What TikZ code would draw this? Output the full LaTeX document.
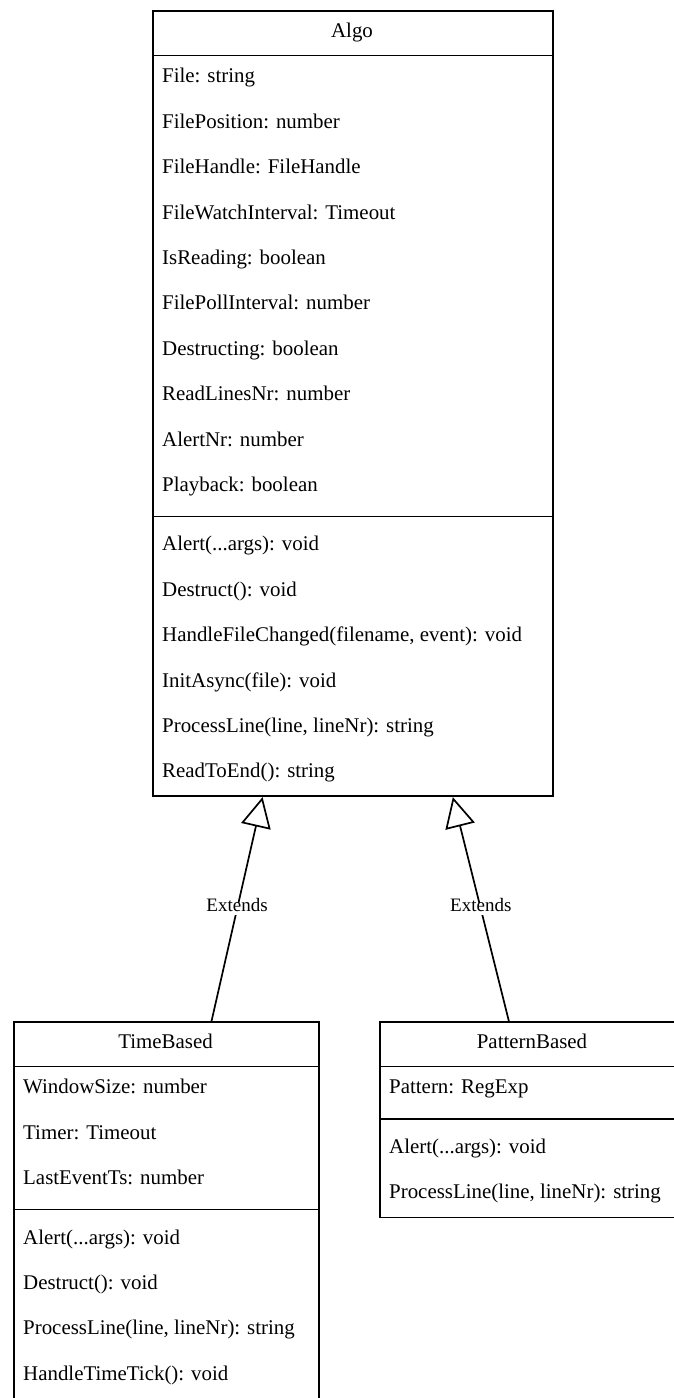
\documentclass[tikz,border=0pt]{standalone}
\usepackage{fontspec}
\setmainfont{Liberation Serif}
\usetikzlibrary{arrows.meta}
\begin{document}
\begin{tikzpicture}[x=1pt,y=-1pt,
  classbox/.style={draw=black, line width=1.7pt, fill=white, inner sep=0pt, anchor=north west},
  rowtext/.style={anchor=west, inner sep=0pt, text height=0.94em, text depth=0pt, font=\fontsize{20.9}{25}\selectfont},
  titletext/.style={anchor=center, inner sep=0pt, text height=0.94em, text depth=0pt, font=\fontsize{20.9}{25}\selectfont},
  sepline/.style={draw=black, line width=1.7pt},
  extends/.style={draw=black, line width=1.7pt, -{Triangle[open, length=30pt, width=30pt, line width=1.7pt]}},
  extlabel/.style={fill=white, inner sep=1pt, text height=0.75em, text depth=0.25em, font=\fontsize{19}{22}\selectfont}
]
\useasboundingbox (0,0) rectangle (673,1398);

% ---------- Algo ----------
\node[classbox, minimum width=400pt, minimum height=785.4pt] (algo) at (152,10) {};
\node[titletext] (algoT) at (352,32.7) {Algo};
\draw[sepline] (152,55.4) -- (552,55.4);
\node[rowtext] (a1) at (162,78.1) {File: string};
\node[rowtext] (a2) at (162,123.5) {FilePosition: number};
\node[rowtext] (a3) at (162,168.9) {FileHandle: FileHandle};
\node[rowtext] (a4) at (162,214.3) {FileWatchInterval: Timeout};
\node[rowtext] (a5) at (162,259.7) {IsReading: boolean};
\node[rowtext] (a6) at (162,305.1) {FilePollInterval: number};
\node[rowtext] (a7) at (162,350.5) {Destructing: boolean};
\node[rowtext] (a8) at (162,395.9) {ReadLinesNr: number};
\node[rowtext] (a9) at (162,441.3) {AlertNr: number};
\node[rowtext] (a10) at (162,486.7) {Playback: boolean};
\draw[sepline] (152,516.4) -- (552,516.4);
\node[rowtext] (m1) at (162,546.1) {Alert(...args): void};
\node[rowtext] (m2) at (162,591.5) {Destruct(): void};
\node[rowtext] (m3) at (162,636.9) {HandleFileChanged(filename, event): void};
\node[rowtext] (m4) at (162,682.3) {InitAsync(file): void};
\node[rowtext] (m5) at (162,727.7) {ProcessLine(line, lineNr): string};
\node[rowtext] (m6) at (162,773.1) {ReadToEnd(): string};

% ---------- TimeBased ----------
\node[classbox, minimum width=305pt, minimum height=379pt] (tb) at (13,1021) {};
\node[titletext] (tbT) at (165.5,1043.7) {TimeBased};
\draw[sepline] (13,1066.4) -- (318,1066.4);
\node[rowtext] (t1) at (23,1089.1) {WindowSize: number};
\node[rowtext] (t2) at (23,1134.5) {Timer: Timeout};
\node[rowtext] (t3) at (23,1179.9) {LastEventTs: number};
\draw[sepline] (13,1209.6) -- (318,1209.6);
\node[rowtext] (t4) at (23,1239.3) {Alert(...args): void};
\node[rowtext] (t5) at (23,1284.7) {Destruct(): void};
\node[rowtext] (t6) at (23,1330.1) {ProcessLine(line, lineNr): string};
\node[rowtext] (t7) at (23,1375.5) {HandleTimeTick(): void};

% ---------- PatternBased ----------
\node[classbox, minimum width=306pt, minimum height=195.6pt] (pb) at (379,1021) {};
\node[titletext] (pbT) at (532,1043.7) {PatternBased};
\draw[sepline] (379,1066.4) -- (685,1066.4);
\node[rowtext] (p1) at (389,1089.1) {Pattern: RegExp};
\draw[sepline] (379,1118.8) -- (685,1118.8);
\node[rowtext] (p2) at (389,1148.5) {Alert(...args): void};
\node[rowtext] (p3) at (389,1193.9) {ProcessLine(line, lineNr): string};

% ---------- Connectors ----------
\draw[extends] ([xshift=45.2pt]tb.north) -- node[extlabel] {Extends} ([xshift=-90.3pt]algo.south);
\draw[extends] ([xshift=-24pt]pb.north) -- node[extlabel] {Extends} ([xshift=100pt]algo.south);
\end{tikzpicture}
\end{document}
